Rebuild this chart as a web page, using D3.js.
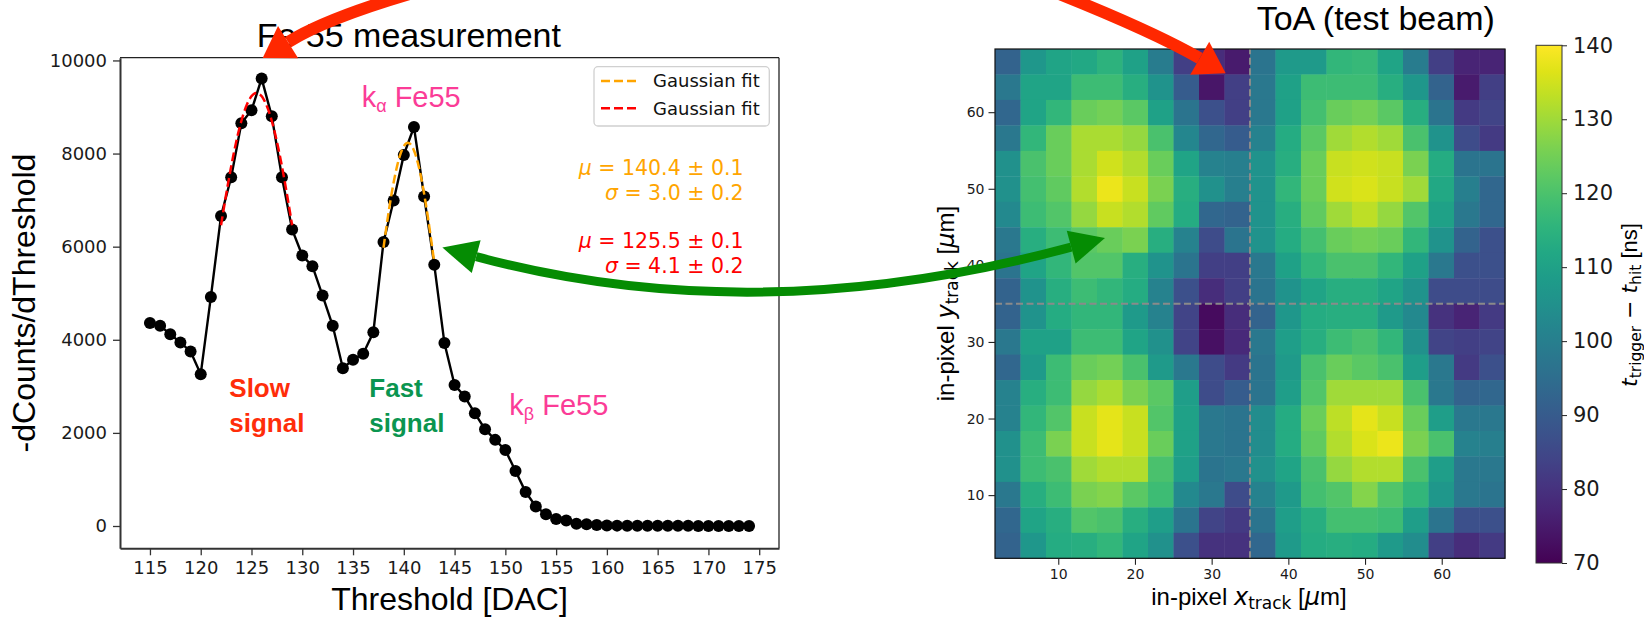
<!DOCTYPE html>
<html>
<head>
<meta charset="utf-8">
<script src="https://cdn.jsdelivr.net/npm/d3@7"></script>
<style>
  body { margin: 0; background: #fff; }
  svg { display: block; }
</style>
</head>
<body>
<svg id="fig" width="1644" height="617"></svg>
<script>
// ---------- Fe-55 threshold scan ----------
const thresholds = [115,116,117,118,119,120,121,122,123,124,125,126,127,128,129,130,131,132,133,134,
                    135,136,137,138,139,140,141,142,143,144,145,146,147,148,149,150,151,152,153,154,
                    155,156,157,158,159,160,161,162,163,164,165,166,167,168,169,170,171,172,173,174];
const dCounts = [4360,4300,4120,3940,3750,3260,4920,6660,7490,8650,8930,9610,8800,7490,6370,5810,5580,4950,4300,3390,
                 3570,3700,4160,6100,6990,7970,8570,7080,5610,3930,3030,2780,2420,2080,1850,1630,1180,730,420,250,
                 150,120,50,40,20,10,8,6,5,5,4,4,3,3,2,2,2,1,1,1];
const xTicks = [115,120,125,130,135,140,145,150,155,160,165,170,175];
const yTicks = [0,2000,4000,6000,8000,10000];

// Gaussian fits: mean, sigma, amplitude, fitted threshold window
const fitNames  = ["fast", "slow"];
const fitMu     = [140.4, 125.5];
const fitSigma  = [3.0, 4.1];
const fitAmp    = [8230, 9300];
const fitRange  = [[138, 143], [122, 129]];
const fitLabels = [["140.4 ± 0.1", "3.0 ± 0.2"], ["125.5 ± 0.1", "4.1 ± 0.2"]];

// ---------- ToA in-pixel map (ns), rows from the top edge downwards ----------
const binEdges = [1.75,5.075,8.4,11.725,15.05,18.375,21.7,25.025,28.35,31.675,35,
                  38.325,41.65,44.975,48.3,51.625,54.95,58.275,61.6,64.925,68.25];
const toaRows = [
  [92,107,111,112,115,110,99,83,79,75,97,108,108,116,117,111,99,83,77,77],
  [98,111,111,118,118,114,106,90,74,83,98,110,118,118,118,114,107,92,75,83],
  [93,111,116,124,125,122,110,97,87,83,98,110,119,124,125,122,114,97,82,84],
  [98,116,124,131,131,129,120,102,93,90,101,113,122,130,132,130,120,106,86,82],
  [105,120,124,131,135,132,124,111,101,100,106,114,124,134,135,134,126,113,97,97],
  [105,119,123,132,138,134,126,114,105,100,106,116,124,135,136,134,130,112,100,93],
  [103,118,121,129,134,132,123,113,93,92,106,114,123,130,133,129,121,110,98,93],
  [98,114,118,122,124,126,114,101,86,97,106,113,119,124,125,124,116,106,92,87],
  [97,111,116,121,121,114,106,97,83,83,98,110,116,120,120,116,110,98,87,87],
  [92,106,114,118,116,113,101,87,79,83,97,106,111,114,114,111,106,86,86,86],
  [92,106,113,116,116,108,101,84,72,79,92,107,113,114,114,108,103,80,77,82],
  [98,110,110,118,118,111,105,84,73,78,98,109,114,118,120,116,105,84,83,84],
  [93,108,118,124,125,120,108,98,86,82,97,108,120,124,122,120,109,98,82,87],
  [101,114,118,129,131,126,122,109,86,90,97,109,121,130,130,130,120,98,92,93],
  [101,116,121,134,137,134,121,110,98,97,104,113,124,133,137,134,124,109,98,98],
  [105,118,126,134,137,134,124,110,98,97,104,113,123,132,136,138,126,120,101,100],
  [105,118,120,130,132,132,120,109,97,98,105,111,120,129,132,132,120,109,98,98],
  [98,114,118,126,127,122,118,103,98,86,101,108,119,121,127,121,116,107,98,97],
  [93,111,114,121,120,114,109,97,84,82,97,109,114,119,119,118,109,97,87,87],
  [92,107,113,114,116,111,105,87,80,80,93,108,113,114,113,108,104,83,79,82]
];
const mapTicks = [10,20,30,40,50,60];
const pixelCentre = 35;
const cbTicks = [70,80,90,100,110,120,130,140];

// ---------- styling ----------
const SANS = "'Liberation Sans', Arial, sans-serif";
const DJV = "'DejaVu Sans', sans-serif";
const fitColors = ["#ffa500", "#ff0000"];

const svg = d3.select("#fig");

function rich(textSel, parts) {
  parts.forEach(p => {
    const ts = textSel.append("tspan").text(p.t);
    if (p.f) ts.attr("font-family", p.f);
    if (p.it) ts.attr("font-style", "italic");
    if (p.s) ts.attr("font-size", p.s);
    if (p.dy) ts.attr("dy", p.dy);
  });
  return textSel;
}

// ================= left panel: threshold scan =================
const x = d3.scaleLinear().domain([112.05, 176.95]).range([120, 779]);
const y = d3.scaleLinear().domain([-479, 10059]).range([548.3, 57.7]);

const left = svg.append("g");

// spines
left.append("line").attr("x1", 120).attr("x2", 779).attr("y1", 57.7).attr("y2", 57.7).attr("stroke", "#222").attr("stroke-width", 1.3);
left.append("line").attr("x1", 779).attr("x2", 779).attr("y1", 57.7).attr("y2", 548.3).attr("stroke", "#222").attr("stroke-width", 1.3);

const xAxis = left.append("g").attr("transform", "translate(0,548.3)")
  .call(d3.axisBottom(x).tickValues(xTicks).tickSize(7).tickPadding(6).tickSizeOuter(0));
const yAxis = left.append("g").attr("transform", "translate(120,0)")
  .call(d3.axisLeft(y).tickValues(yTicks).tickSize(7).tickPadding(6).tickSizeOuter(0).tickFormat(d3.format("d")));
[xAxis, yAxis].forEach(a => {
  a.select(".domain").attr("stroke", "#333").attr("stroke-width", 2);
  a.selectAll(".tick line").attr("stroke", "#333").attr("stroke-width", 1.3);
  a.selectAll(".tick text").attr("font-family", DJV).attr("font-size", 18).attr("fill", "#1a1a1a");
});

// data line and markers
const pts = thresholds.map((t, i) => [t, dCounts[i]]);
left.append("path").datum(pts)
  .attr("d", d3.line().x(d => x(d[0])).y(d => y(d[1])))
  .attr("fill", "none").attr("stroke", "#000").attr("stroke-width", 2.4);
left.append("g").selectAll("circle").data(pts).join("circle")
  .attr("cx", d => x(d[0])).attr("cy", d => y(d[1])).attr("r", 6).attr("fill", "#000");

// Gaussian fit curves
const fitLine = d3.line().x(d => x(d[0])).y(d => y(d[1])).curve(d3.curveLinear);
fitNames.forEach((n, k) => {
  const [a, b] = fitRange[k];
  const curve = d3.range(0, 101).map(i => {
    const t = a + (b - a) * i / 100;
    return [t, fitAmp[k] * Math.exp(-((t - fitMu[k]) ** 2) / (2 * fitSigma[k] ** 2))];
  });
  left.append("path").datum(curve).attr("d", fitLine)
    .attr("fill", "none").attr("stroke", fitColors[k]).attr("stroke-width", 2.5)
    .attr("stroke-dasharray", "9,4");
});

// legend
const leg = left.append("g");
leg.append("rect").attr("x", 594).attr("y", 66.7).attr("width", 175.3).attr("height", 59.3)
  .attr("rx", 4).attr("fill", "#fff").attr("fill-opacity", 0.8).attr("stroke", "#d0d0d0").attr("stroke-width", 1.3);
fitNames.forEach((n, k) => {
  const ly = 81 + k * 27.3;
  leg.append("line").attr("x1", 601).attr("x2", 638).attr("y1", ly).attr("y2", ly)
    .attr("stroke", fitColors[k]).attr("stroke-width", 2.5).attr("stroke-dasharray", "9,4");
  leg.append("text").attr("x", 653).attr("y", ly).attr("dy", "0.35em")
    .attr("font-family", DJV).attr("font-size", 18).attr("fill", "#111").text("Gaussian fit");
});

// fit parameters
const paramY = [[175, 200], [248.3, 273.3]];
fitNames.forEach((n, k) => {
  ["μ", "σ"].forEach((sym, j) => {
    const t = left.append("text").attr("x", 743.5).attr("y", paramY[k][j])
      .attr("text-anchor", "end").attr("font-family", DJV).attr("font-size", 20.5).attr("fill", fitColors[k]);
    rich(t, [{t: sym, it: true}, {t: " = " + fitLabels[k][j]}]);
  });
});

// titles and axis labels
left.append("text").attr("x", 256.7).attr("y", 46.7).attr("font-family", SANS).attr("font-size", 34)
  .attr("fill", "#000").text("Fe 55 measurement");
left.append("text").attr("x", 449.5).attr("y", 610).attr("text-anchor", "middle")
  .attr("font-family", SANS).attr("font-size", 32).attr("fill", "#000").text("Threshold [DAC]");
left.append("text").attr("transform", "translate(35,303) rotate(-90)").attr("text-anchor", "middle")
  .attr("font-family", SANS).attr("font-size", 32).attr("fill", "#000").text("-dCounts/dThreshold");

// peak annotations
const pink = "#fb3c97";
rich(left.append("text").attr("x", 361.7).attr("y", 106.7).attr("font-family", SANS).attr("font-size", 29).attr("fill", pink),
  [{t: "k"}, {t: "α", s: 18, dy: 5}, {t: " Fe55", s: 29, dy: -5}]);
rich(left.append("text").attr("x", 509.3).attr("y", 415).attr("font-family", SANS).attr("font-size", 29).attr("fill", pink),
  [{t: "k"}, {t: "β", s: 18, dy: 5}, {t: " Fe55", s: 29, dy: -5}]);

[["Slow", "signal", 229.3, "#ff2d0a"], ["Fast", "signal", 369.3, "#0b9550"]].forEach(([a, b, lx, c]) => {
  const t = left.append("text").attr("font-family", SANS).attr("font-size", 26).attr("font-weight", "bold").attr("fill", c);
  t.append("tspan").attr("x", lx).attr("y", 396.7).text(a);
  t.append("tspan").attr("x", lx).attr("y", 431.7).text(b);
});

// ================= right panel: ToA map =================
const hx = d3.scaleLinear().domain([binEdges[0], binEdges[20]]).range([995, 1505]);
const hy = d3.scaleLinear().domain([binEdges[0], binEdges[20]]).range([558.3, 49]);
const color = d3.scaleSequential(d3.interpolateViridis).domain([70, 140]);

const right = svg.append("g");
const cells = [];
toaRows.forEach((row, i) => {
  const yHi = binEdges[20 - i], yLo = binEdges[19 - i];
  row.forEach((v, j) => cells.push({x0: binEdges[j], x1: binEdges[j + 1], y0: yLo, y1: yHi, v}));
});
right.append("g").selectAll("rect").data(cells).join("rect")
  .attr("x", d => hx(d.x0)).attr("y", d => hy(d.y1))
  .attr("width", d => hx(d.x1) - hx(d.x0) + 0.4).attr("height", d => hy(d.y0) - hy(d.y1) + 0.4)
  .attr("fill", d => color(d.v));

// pixel-centre guide lines
right.append("line").attr("x1", hx(pixelCentre)).attr("x2", hx(pixelCentre)).attr("y1", hy(binEdges[0])).attr("y2", hy(binEdges[20]))
  .attr("stroke", "#8a8a8a").attr("stroke-width", 2).attr("stroke-dasharray", "7,3.5");
right.append("line").attr("y1", hy(pixelCentre)).attr("y2", hy(pixelCentre)).attr("x1", hx(binEdges[0])).attr("x2", hx(binEdges[20]))
  .attr("stroke", "#8a8a8a").attr("stroke-width", 2).attr("stroke-dasharray", "7,3.5");

right.append("rect").attr("x", 995).attr("y", 49).attr("width", 510).attr("height", 509.3)
  .attr("fill", "none").attr("stroke", "#111").attr("stroke-width", 1.2);

const hxAxis = right.append("g").attr("transform", "translate(0,558.3)")
  .call(d3.axisBottom(hx).tickValues(mapTicks).tickSize(6.5).tickPadding(4).tickSizeOuter(0));
const hyAxis = right.append("g").attr("transform", "translate(995,0)")
  .call(d3.axisLeft(hy).tickValues(mapTicks).tickSize(6.5).tickPadding(4).tickSizeOuter(0));
[hxAxis, hyAxis].forEach(a => {
  a.select(".domain").remove();
  a.selectAll(".tick line").attr("stroke", "#222").attr("stroke-width", 1.1);
  a.selectAll(".tick text").attr("font-family", DJV).attr("font-size", 14).attr("fill", "#1a1a1a");
});

right.append("text").attr("x", 1256.7).attr("y", 30).attr("font-family", SANS).attr("font-size", 34)
  .attr("fill", "#000").text("ToA (test beam)");

rich(right.append("text").attr("x", 1249).attr("y", 605).attr("text-anchor", "middle")
  .attr("font-family", SANS).attr("font-size", 24).attr("fill", "#000"),
  [{t: "in-pixel "}, {t: "x", f: DJV, it: true}, {t: "track", f: DJV, s: 17, dy: 4},
   {t: " [", s: 24, dy: -4}, {t: "μ", f: DJV, it: true}, {t: "m]"}]);
rich(right.append("text").attr("transform", "translate(954,303.5) rotate(-90)").attr("text-anchor", "middle")
  .attr("font-family", SANS).attr("font-size", 24).attr("fill", "#000"),
  [{t: "in-pixel "}, {t: "y", f: DJV, it: true}, {t: "track", f: DJV, s: 17, dy: 4},
   {t: " [", s: 24, dy: -4}, {t: "μ", f: DJV, it: true}, {t: "m]"}]);

// colour bar
const cy = d3.scaleLinear().domain([70, 140]).range([563, 45.3]);
const grad = svg.append("defs").append("linearGradient").attr("id", "viridisBar")
  .attr("x1", 0).attr("x2", 0).attr("y1", 1).attr("y2", 0);
d3.range(0, 1.0001, 0.05).forEach(s => grad.append("stop").attr("offset", s).attr("stop-color", d3.interpolateViridis(s)));
right.append("rect").attr("x", 1536).attr("y", cy(140)).attr("width", 26).attr("height", cy(70) - cy(140))
  .attr("fill", "url(#viridisBar)").attr("stroke", "#333").attr("stroke-width", 1);
const cbAxis = right.append("g").attr("transform", "translate(1562,0)")
  .call(d3.axisRight(cy).tickValues(cbTicks).tickSize(5).tickPadding(6).tickSizeOuter(0));
cbAxis.select(".domain").remove();
cbAxis.selectAll(".tick line").attr("stroke", "#222");
cbAxis.selectAll(".tick text").attr("font-family", DJV).attr("font-size", 21).attr("fill", "#1a1a1a");

rich(right.append("text").attr("transform", "translate(1637,305) rotate(-90)").attr("text-anchor", "middle")
  .attr("font-family", DJV).attr("font-size", 22).attr("fill", "#000"),
  [{t: "t", it: true}, {t: "trigger", s: 15.5, dy: 4}, {t: " − ", s: 22, dy: -4}, {t: "t", it: true},
   {t: "hit", s: 15.5, dy: 4}, {t: " [ns]", f: SANS, s: 22, dy: -4}]);

// ================= connecting arrows =================
const arrows = svg.append("g");
function head(tip, dir, len, hw, fill) {
  const bx = tip[0] + dir[0] * len, by = tip[1] + dir[1] * len;
  const px = -dir[1], py = dir[0];
  arrows.append("path")
    .attr("d", `M${tip[0]},${tip[1]}L${bx + px * hw},${by + py * hw}L${bx - px * hw},${by - py * hw}Z`)
    .attr("fill", fill);
  return [bx, by];
}
function unit(v) { const l = Math.hypot(v[0], v[1]); return [v[0] / l, v[1] / l]; }

// red: peak of the slow component <-> slow column of the map
const red = "#ff2800";
const rTip0 = [x(126.1), 58];
const rTip1 = [hx(31.83), hy(65.08)];
const rB0 = head(rTip0, unit([0.848, -0.53]), 30, 19, red);
const rB1 = head(rTip1, unit([-0.866, -0.5]), 30, 19, red);
const rp = d3.path();
rp.moveTo(rB0[0], rB0[1]);
rp.quadraticCurveTo(rTip0[0] + 77, rTip0[1] - 48, rTip0[0] + 217, rTip0[1] - 83);
rp.lineTo(rTip1[0] - 196, rTip1[1] - 91);
rp.quadraticCurveTo(rTip1[0] - 78, rTip1[1] - 45, rB1[0], rB1[1]);
arrows.append("path").attr("d", rp.toString()).attr("fill", "none").attr("stroke", red).attr("stroke-width", 12);

// green: fast peak <-> fast region of the map
const green = "#058c03";
const gTip0 = [x(143.8), y(5980)];
const gTip1 = [hx(16.09), hy(43.57)];
const gd0 = unit([0.965, 0.26]), gd1 = unit([-0.965, 0.26]);
const gB0 = head(gTip0, gd0, 35, 17, green);
const gB1 = head(gTip1, gd1, 35, 17, green);
// control point where both end tangents meet
const m0 = gd0[1] / gd0[0], m1 = gd1[1] / gd1[0];
const cx = (gB1[1] - gB0[1] + m0 * gB0[0] - m1 * gB1[0]) / (m0 - m1);
const cyy = gB0[1] + m0 * (cx - gB0[0]);
const gp = d3.path();
gp.moveTo(gB0[0], gB0[1]);
gp.quadraticCurveTo(cx, cyy, gB1[0], gB1[1]);
arrows.append("path").attr("d", gp.toString()).attr("fill", "none").attr("stroke", green).attr("stroke-width", 9);
</script>
</body>
</html>
